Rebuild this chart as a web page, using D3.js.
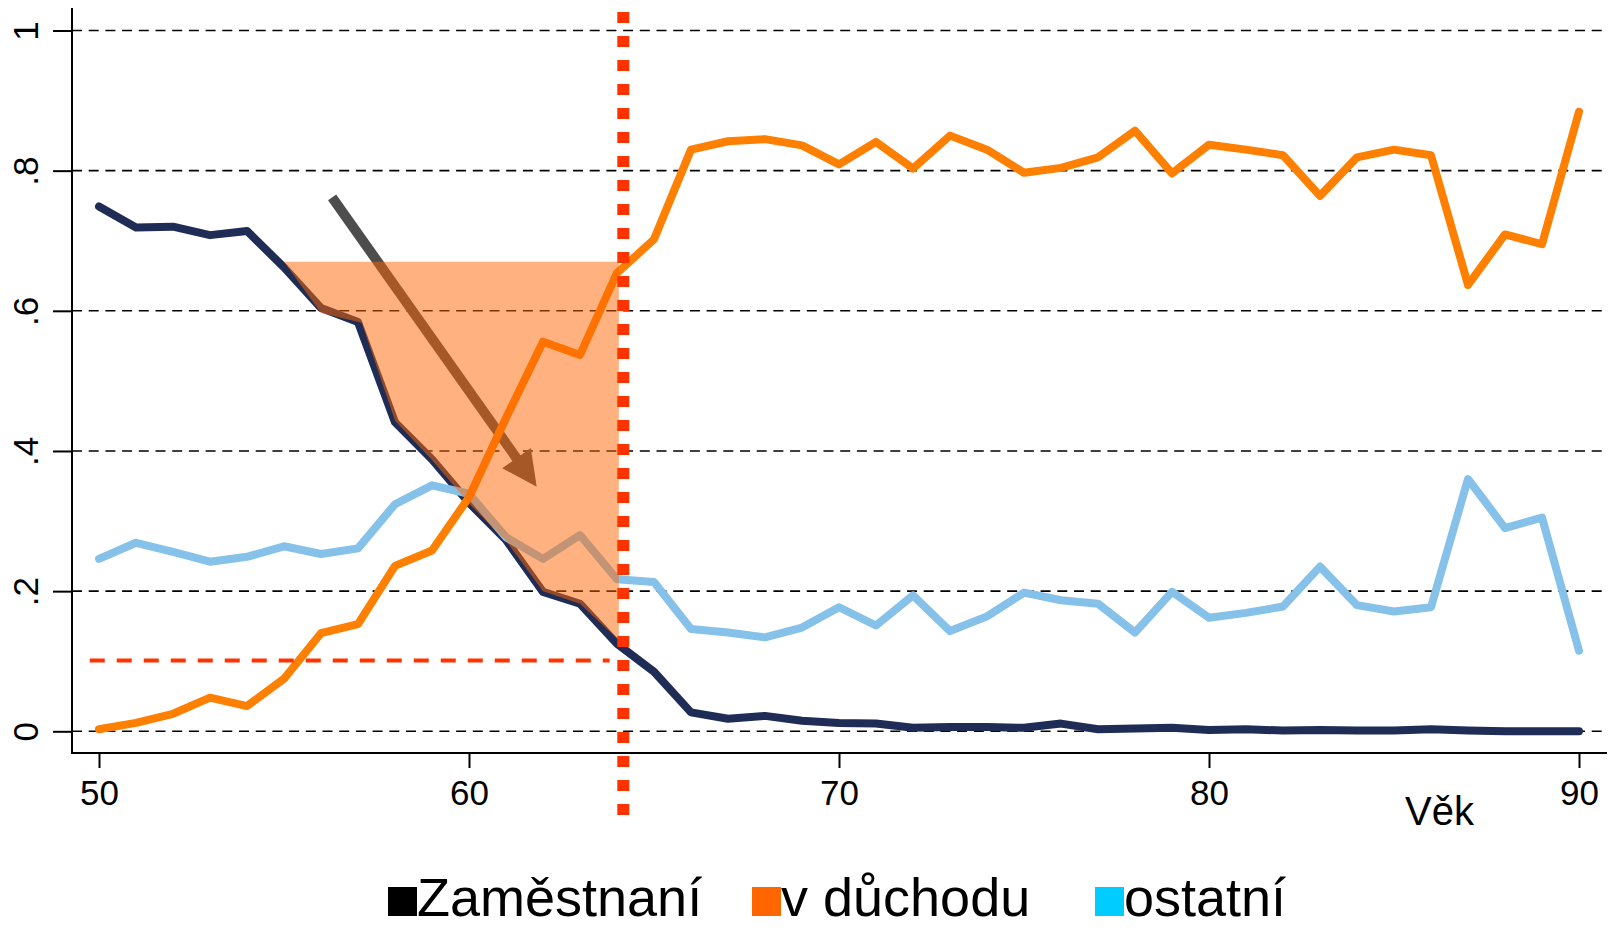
<!DOCTYPE html>
<html>
<head>
<meta charset="utf-8">
<script src="https://cdn.jsdelivr.net/npm/d3@7"></script>
<style>
  body { margin: 0; background: #fff; }
  svg { display: block; font-family: "Liberation Sans", Arial, sans-serif; }
</style>
</head>
<body>
<div id="chart"></div>
<script>
const width = 1608;
const height = 928;

// ages on the x axis
const ages = [50, 51, 52, 53, 54, 55, 56, 57, 58, 59, 60, 61, 62, 63, 64, 65, 66, 67, 68, 69, 70,
              71, 72, 73, 74, 75, 76, 77, 78, 79, 80, 81, 82, 83, 84, 85, 86, 87, 88, 89, 90];

// share of people by status
const zamestnani = [0.749, 0.719, 0.720, 0.708, 0.714, 0.662, 0.604, 0.584, 0.441, 0.388, 0.326,
                    0.273, 0.199, 0.182, 0.125, 0.085, 0.027, 0.018, 0.022, 0.015, 0.012,
                    0.011, 0.005, 0.006, 0.006, 0.005, 0.011, 0.003, 0.004, 0.005, 0.002,
                    0.003, 0.001, 0.002, 0.001, 0.001, 0.003, 0.001, 0.000, 0.000, 0.000];
const duchod = [0.003, 0.012, 0.025, 0.048, 0.036, 0.075, 0.140, 0.153, 0.236, 0.258, 0.334,
                0.447, 0.556, 0.537, 0.654, 0.702, 0.830, 0.842, 0.845, 0.836, 0.809,
                0.841, 0.803, 0.850, 0.830, 0.797, 0.804, 0.819, 0.857, 0.796, 0.837,
                0.830, 0.822, 0.764, 0.819, 0.830, 0.822, 0.637, 0.709, 0.695, 0.884];
const ostatni = [0.246, 0.269, 0.256, 0.242, 0.249, 0.264, 0.253, 0.261, 0.324, 0.351, 0.339,
                 0.277, 0.246, 0.280, 0.217, 0.213, 0.146, 0.141, 0.134, 0.148, 0.177,
                 0.151, 0.194, 0.143, 0.164, 0.198, 0.187, 0.182, 0.141, 0.199, 0.162,
                 0.169, 0.178, 0.235, 0.180, 0.171, 0.177, 0.360, 0.290, 0.305, 0.115];

// highlighted area (age, share)
const areaAges = [55, 64.05, 64.05, 63, 62, 61, 60, 59, 58, 57.1, 56];
const areaVals = [0.67, 0.67, 0.13, 0.182, 0.2, 0.272, 0.325, 0.387, 0.443, 0.583, 0.597];

// arrow: start and tip (age, share)
const arrowAges = [56.3, 61.83];
const arrowVals = [0.762, 0.349];

const retireAge = 64.17;
const refLevel = 0.101;
const refAges = [49.75, 63.8];

const xTicks = [50, 60, 70, 80, 90];
const yTicks = [0, 0.2, 0.4, 0.6, 0.8, 1];
const yTickLabels = ["0", ".2", ".4", ".6", ".8", "1"];

const legendNames = ["Zaměstnaní", "v důchodu", "ostatní"];
const legendColors = ["#000000", "#ff6600", "#00ccff"];

const axisX = 72, axisY = 753, plotRight = 1607, plotTop = 8;

const x = d3.scaleLinear().domain([50, 90]).range([99, 1579]);
const y = d3.scaleLinear().domain([0, 1]).range([731.3, 30.5]);

const svg = d3.select("#chart").append("svg")
    .attr("width", width)
    .attr("height", height);

// gridlines
svg.append("g").selectAll("line")
    .data(yTicks)
    .enter().append("line")
    .attr("x1", axisX).attr("x2", plotRight)
    .attr("y1", d => y(d)).attr("y2", d => y(d))
    .attr("stroke", "#000")
    .attr("stroke-width", 1.6)
    .attr("stroke-dasharray", "10,6.7");

// axes
const yAxis = svg.append("g")
    .attr("transform", `translate(${axisX},0)`)
    .call(d3.axisLeft(y).tickValues(yTicks).tickSize(19)
        .tickFormat((d, i) => yTickLabels[i]));
yAxis.select(".domain").remove();
yAxis.selectAll(".tick line").attr("stroke", "#000").attr("stroke-width", 2);
yAxis.selectAll(".tick text")
    .attr("transform", "rotate(-90)")
    .attr("x", 0).attr("y", -34.5).attr("dy", 0)
    .attr("text-anchor", "middle")
    .style("font-size", "35px")
    .style("font-family", "'Liberation Sans', Arial, sans-serif")
    .attr("fill", "#000");

const xAxis = svg.append("g")
    .attr("transform", `translate(0,${axisY})`)
    .call(d3.axisBottom(x).tickValues(xTicks).tickSize(15).tickFormat(d3.format("d")));
xAxis.select(".domain").remove();
xAxis.selectAll(".tick line").attr("stroke", "#000").attr("stroke-width", 2);
xAxis.selectAll(".tick text")
    .attr("y", 52).attr("dy", 0)
    .style("font-size", "35px")
    .style("font-family", "'Liberation Sans', Arial, sans-serif")
    .attr("fill", "#000");

svg.append("line")
    .attr("x1", axisX).attr("x2", axisX)
    .attr("y1", plotTop).attr("y2", axisY + 1)
    .attr("stroke", "#000").attr("stroke-width", 2);
svg.append("line")
    .attr("x1", axisX - 1).attr("x2", plotRight)
    .attr("y1", axisY).attr("y2", axisY)
    .attr("stroke", "#000").attr("stroke-width", 2);

svg.append("text")
    .attr("x", 1405).attr("y", 825)
    .style("font-size", "40px")
    .text("Věk");

// series lines
const line = d3.line()
    .x((d, i) => x(ages[i]))
    .y(d => y(d));

function drawSeries(values, color) {
    svg.append("path")
        .datum(values)
        .attr("d", line)
        .attr("fill", "none")
        .attr("stroke", color)
        .attr("stroke-width", 8)
        .attr("stroke-linejoin", "round")
        .attr("stroke-linecap", "round");
}

drawSeries(zamestnani, "#1f2d56");
drawSeries(ostatni, "#85c1e9");

// arrow (sits under the highlighted area)
const ax0 = x(arrowAges[0]), ay0 = y(arrowVals[0]);
const ax1 = x(arrowAges[1]), ay1 = y(arrowVals[1]);
const ang = Math.atan2(ay1 - ay0, ax1 - ax0);
const headLen = 35, headHalf = 17.5;
const bx = ax1 - headLen * Math.cos(ang), by = ay1 - headLen * Math.sin(ang);
svg.append("line")
    .attr("x1", ax0).attr("y1", ay0)
    .attr("x2", bx + 2 * Math.cos(ang)).attr("y2", by + 2 * Math.sin(ang))
    .attr("stroke", "#4d4d4d")
    .attr("stroke-width", 10);
svg.append("polygon")
    .attr("points", [
        [ax1, ay1],
        [bx - headHalf * Math.sin(ang), by + headHalf * Math.cos(ang)],
        [bx + headHalf * Math.sin(ang), by - headHalf * Math.cos(ang)]
    ].map(p => p.join(",")).join(" "))
    .attr("fill", "#4d4d4d");

drawSeries(duchod, "#ff7f00");

// highlighted area
svg.append("polygon")
    .attr("points", areaAges.map((a, i) => [x(a), y(areaVals[i])].join(",")).join(" "))
    .attr("fill", "#ff6600")
    .attr("fill-opacity", 0.5);

// reference lines
svg.append("line")
    .attr("x1", x(refAges[0])).attr("x2", x(refAges[1]))
    .attr("y1", y(refLevel)).attr("y2", y(refLevel))
    .attr("stroke", "#ff3300")
    .attr("stroke-width", 4)
    .attr("stroke-dasharray", "15,12");

svg.append("line")
    .attr("x1", x(retireAge)).attr("x2", x(retireAge))
    .attr("y1", 12).attr("y2", 818)
    .attr("stroke", "#ff3300")
    .attr("stroke-width", 12)
    .attr("stroke-dasharray", "11,13");

// legend
const legendX = [388, 752, 1095];
const legend = svg.append("g").selectAll("g")
    .data(legendNames)
    .enter().append("g")
    .attr("transform", (d, i) => `translate(${legendX[i]},916)`);
legend.append("rect")
    .attr("x", 0).attr("y", -29)
    .attr("width", 29).attr("height", 29)
    .attr("fill", (d, i) => legendColors[i]);
legend.append("text")
    .attr("x", 29).attr("y", 0)
    .style("font-size", "54px")
    .text(d => d);
</script>
</body>
</html>
